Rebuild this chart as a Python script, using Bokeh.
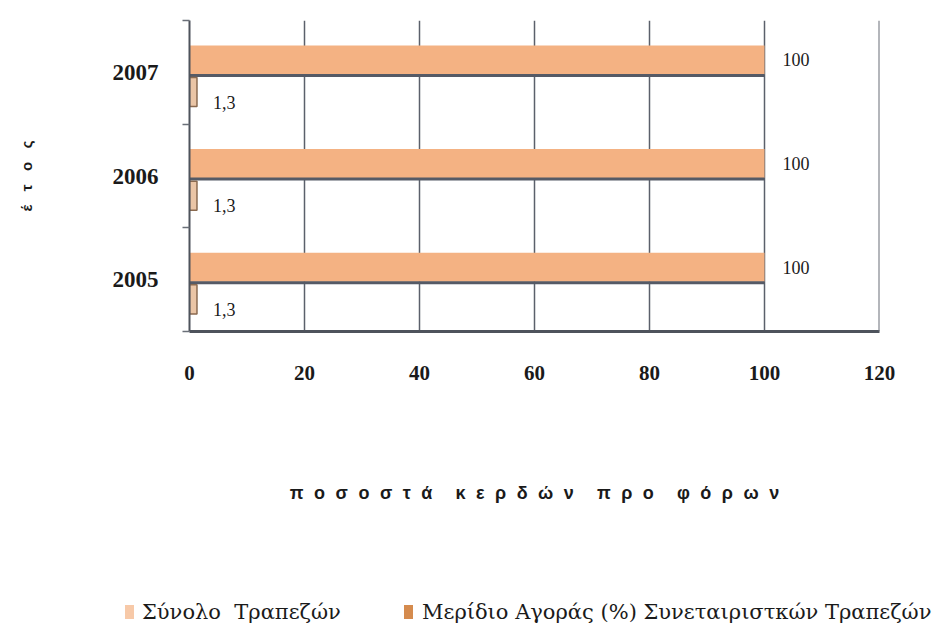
from bokeh.plotting import figure
from bokeh.models import Range1d, FixedTicker, ColumnDataSource, Span, Div
from bokeh.layouts import column
from bokeh.core.properties import value
from bokeh.embed import file_html
from bokeh.resources import INLINE

# ---- data ----
years = ["2005", "2006", "2007"]
total_banks = [100, 100, 100]          # Σύνολο Τραπεζών
coop_share = [1.3, 1.3, 1.3]           # Μερίδιο Αγοράς (%) Συνεταιριστκών Τραπεζών
x_ticks = [0, 20, 40, 60, 80, 100, 120]
series_names = ["Σύνολο  Τραπεζών", "Μερίδιο Αγοράς (%) Συνεταιριστκών Τραπεζών"]

def fmt(v):
    return str(int(v)) if float(v).is_integer() else f"{v:.1f}".replace(".", ",")

idx = list(range(len(years)))
src = ColumnDataSource(dict(
    y_total=[i + 0.62 for i in idx],
    y_share=[i + 0.31 for i in idx],
    y_line=[i + 0.47 for i in idx],
    total=total_banks,
    share=coop_share,
    zero=[0] * len(years),
    total_lbl=[fmt(v) for v in total_banks],
    share_lbl=[fmt(v) for v in coop_share],
))

W, H, LH = 940, 560, 67
COL_TOTAL = "#f4b283"
COL_SHARE = "#d58b4e"

p = figure(width=W, height=H, x_range=Range1d(0, 120), y_range=Range1d(0, 3),
           output_backend="svg", toolbar_location=None,
           min_border_left=189, min_border_right=W - 879, min_border_top=20,
           min_border_bottom=H - 331)
p.background_fill_color = "white"
p.border_fill_color = "white"
p.outline_line_color = None

grid_col = "#5b606b"
# x axis
p.xaxis.ticker = FixedTicker(ticks=x_ticks)
p.xaxis.axis_line_width = 3
p.xaxis.axis_line_color = "#4e535c"
p.xaxis.major_tick_out = 0
p.xaxis.major_tick_in = 0
p.xaxis.minor_tick_line_color = None
p.xaxis.major_label_standoff = 34
p.xaxis.major_label_text_font = "Liberation Serif"
p.xaxis.major_label_text_font_style = "bold"
p.xaxis.major_label_text_font_size = "21px"
p.xaxis.major_label_text_color = "#1a1a1a"
sp = "\u2002\u200a"
wsp = sp + "\u2002\u2009"
p.xaxis.axis_label = wsp.join(sp.join(w) for w in ["ποσοστά", "κερδών", "προ", "φόρων"])
p.xaxis.axis_label_text_font = "Liberation Sans"
p.xaxis.axis_label_text_font_style = "bold"
p.xaxis.axis_label_text_font_size = "18px"
p.xaxis.axis_label_text_color = "#1a1a1a"
p.xaxis.axis_label_standoff = 100

# y axis
p.yaxis.ticker = FixedTicker(ticks=[i + 0.5 for i in idx], minor_ticks=[0, 1, 2, 3])
p.yaxis.major_label_overrides = {i + 0.5: y for i, y in zip(idx, years)}
p.yaxis.axis_line_width = 2
p.yaxis.axis_line_color = "#4e535c"
p.yaxis.major_tick_out = 0
p.yaxis.major_tick_in = 0
p.yaxis.minor_tick_out = 7
p.yaxis.minor_tick_in = 0
p.yaxis.minor_tick_line_color = "#6a6f78"
p.yaxis.minor_tick_line_width = 1.5
p.yaxis.major_label_standoff = 24
p.yaxis.major_label_text_font = "Liberation Serif"
p.yaxis.major_label_text_font_style = "bold"
p.yaxis.major_label_text_font_size = "23px"
p.yaxis.major_label_text_color = "#1a1a1a"
ysp = "\u2002\u2009\u2009"
p.yaxis.axis_label = ysp.join("έτος")
p.yaxis.axis_label_text_font = "Liberation Sans"
p.yaxis.axis_label_text_font_style = "bold"
p.yaxis.axis_label_text_font_size = "15px"
p.yaxis.axis_label_text_color = "#1a1a1a"
p.yaxis.axis_label_standoff = 75

p.xgrid.ticker = FixedTicker(ticks=x_ticks)
p.xgrid.grid_line_color = grid_col
p.xgrid.grid_line_width = 1.5
p.ygrid.grid_line_color = None

p.add_layout(Span(location=120, dimension="height", line_color="#6a6f78", line_width=2))

p.hbar(y="y_total", left="zero", right="total", height=0.28, source=src,
       fill_color=COL_TOTAL, line_color=None)
p.segment(x0="zero", x1="total", y0="y_line", y1="y_line", source=src,
          line_color="#555a66", line_width=3)
p.hbar(y="y_share", left="zero", right="share", height=0.28, source=src,
       fill_color=COL_SHARE, fill_alpha=0.5, line_color="#8a6a50", line_width=1.5)

p.text(x="total", y="y_total", text="total_lbl", source=src, x_offset=18,
       text_align="left", text_baseline="middle", text_font=value("Liberation Serif"),
       text_font_size="18px", text_color="#1a1a1a")
p.text(x="share", y="y_share", text="share_lbl", source=src, x_offset=16, y_offset=10,
       text_align="left", text_baseline="middle", text_font=value("Liberation Serif"),
       text_font_size="18px", text_color="#1a1a1a")

# ---- legend strip (HTML, real text) ----
swatch_left = [125, 404]
text_left = [142, 422]
swatch_alpha = [0.7, 1.0]
parts = []
for name, col, sl, tl, a in zip(series_names, [COL_TOTAL, COL_SHARE], swatch_left, text_left, swatch_alpha):
    parts.append(
        f'<span style="position:absolute;left:{sl}px;top:45px;width:9px;height:14px;'
        f'background:{col};opacity:{a};"></span>'
        f'<span style="position:absolute;left:{tl}px;top:37px;line-height:30px;'
        f'white-space:pre;">{name}</span>'
    )
legend_html = (
    f'<div style="position:relative;width:{W}px;height:{LH}px;'
    f"font-family:'DejaVu Serif',serif;font-size:21px;color:#1a1a1a;\">"
    + "".join(parts) + "</div>"
)
legend_div = Div(text=legend_html, width=W, height=LH, margin=0)

open("out.html", "w").write(file_html(column(p, legend_div), INLINE))
